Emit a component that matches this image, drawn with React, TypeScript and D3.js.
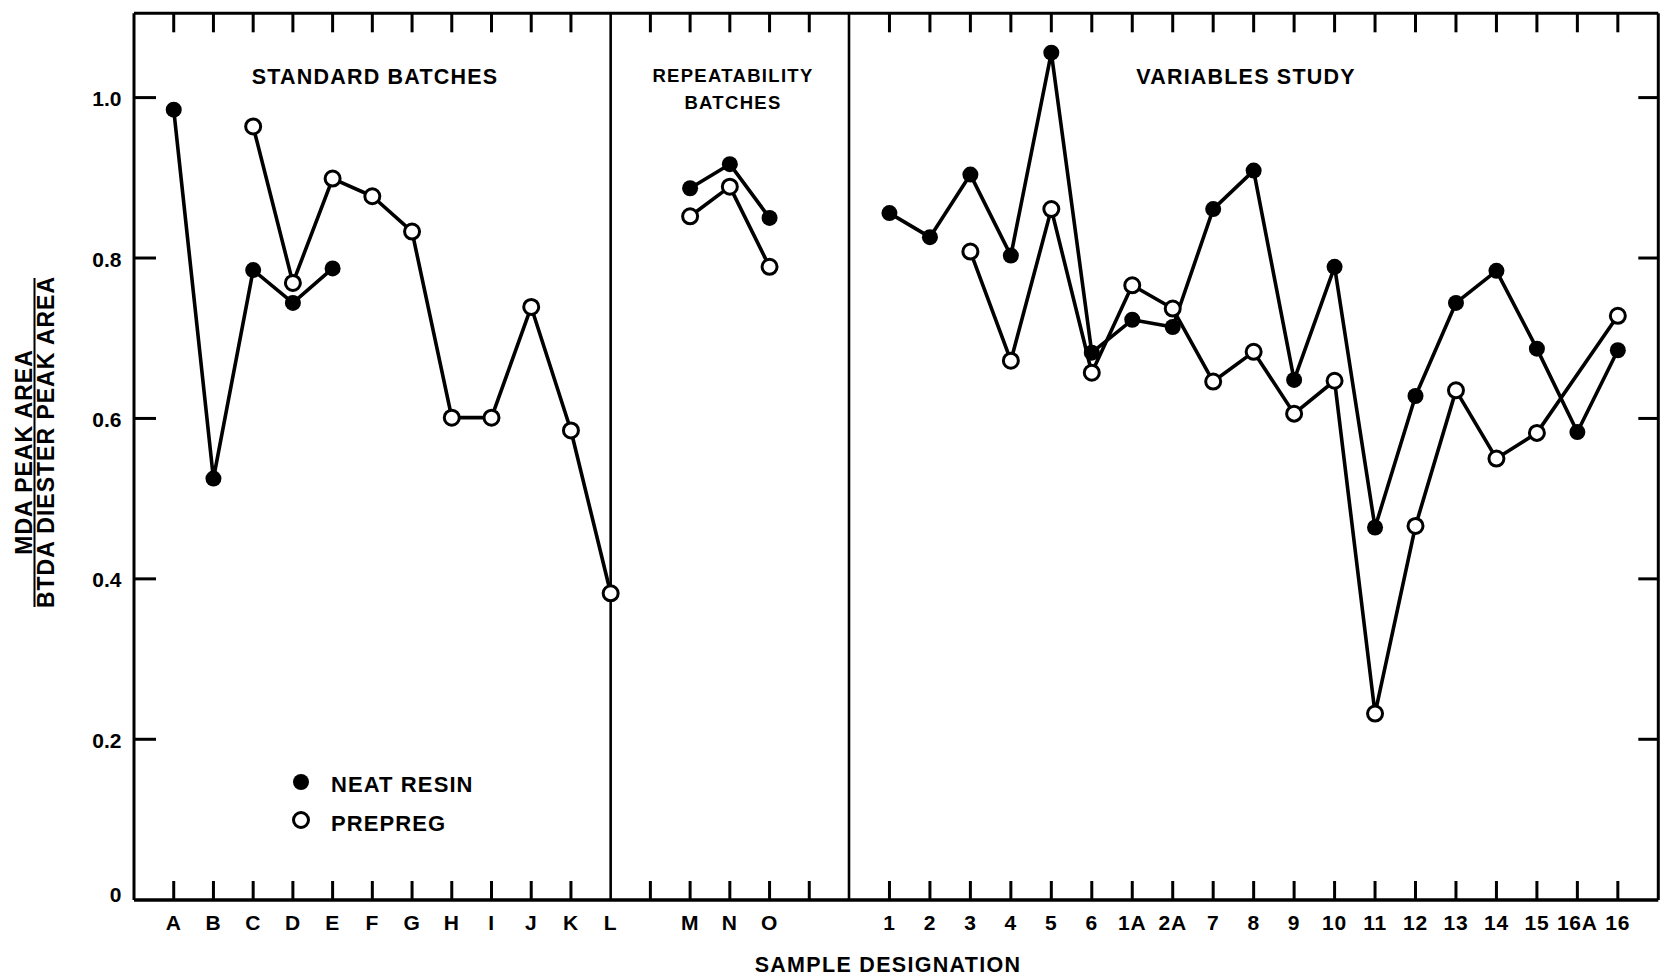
import React from "react";
import * as d3 from "d3";

// ---- Data ----
const standardCats = ["A", "B", "C", "D", "E", "F", "G", "H", "I", "J", "K", "L"];
const repeatCats = ["", "M", "N", "O", ""];
const variableCats = ["1", "2", "3", "4", "5", "6", "1A", "2A", "7", "8", "9", "10", "11", "12", "13", "14", "15", "16A", "16"];

const standardNeat = [0.985, 0.525, 0.785, 0.744, 0.787, null, null, null, null, null, null, null];
const standardPrepreg = [null, null, 0.964, 0.769, 0.899, 0.877, 0.833, 0.601, 0.601, 0.739, 0.585, 0.382];
const repeatNeat = [null, 0.887, 0.917, 0.85, null];
const repeatPrepreg = [null, 0.852, 0.889, 0.789, null];
const variableNeat = [0.856, 0.826, 0.904, 0.803, 1.056, 0.682, 0.723, 0.714, 0.861, 0.909, 0.648, 0.789, 0.464, 0.628, 0.744, 0.784, 0.687, 0.583, 0.685];
const variablePrepreg = [null, null, 0.808, 0.672, 0.861, 0.657, 0.766, 0.737, 0.646, 0.683, 0.606, 0.647, 0.232, 0.466, 0.635, 0.55, 0.582, null, 0.728];

const yTickValues = [0, 0.2, 0.4, 0.6, 0.8, 1.0];
const yTickLabels = ["0", "0.2", "0.4", "0.6", "0.8", "1.0"];

const sectionTitles = ["STANDARD BATCHES", "REPEATABILITY|BATCHES", "VARIABLES STUDY"];
const legendLabels = ["NEAT RESIN", "PREPREG"];

// ---- Layout ----
const W = 1664;
const H = 978;
const LEFT = 134;
const RIGHT = 1658.3;
const TOP = 13.3;
const BOTTOM = 900;
const FONT = "'Liberation Sans', Arial, Helvetica, sans-serif";

// index layout: standard 0..11, repeat 12..16, divider 17, variables 18..36
const standardStart = 0;
const repeatStart = standardCats.length; // 12
const dividerIdx = repeatStart + repeatCats.length; // 17
const variableStart = dividerIdx + 1; // 18
const lastIdx = variableStart + variableCats.length - 1; // 36

const x = d3.scaleLinear().domain([-1, dividerIdx, lastIdx + 1]).range([LEFT, 849, RIGHT]);
const y = d3.scaleLinear().domain([0, 1]).range([899.7, 97.6]);

type Pt = { i: number; v: number };

function toPoints(vals: (number | null)[], start: number): Pt[] {
  const out: Pt[] = [];
  vals.forEach((v, k) => {
    if (v !== null && v !== undefined) out.push({ i: start + k, v });
  });
  return out;
}

const neatSections = [
  toPoints(standardNeat, standardStart),
  toPoints(repeatNeat, repeatStart),
  toPoints(variableNeat, variableStart),
];
const prepregSections = [
  toPoints(standardPrepreg, standardStart),
  toPoints(repeatPrepreg, repeatStart),
  toPoints(variablePrepreg, variableStart),
];

const allCats: { i: number; label: string }[] = [];
standardCats.forEach((c, k) => allCats.push({ i: standardStart + k, label: c }));
repeatCats.forEach((c, k) => allCats.push({ i: repeatStart + k, label: c }));
variableCats.forEach((c, k) => allCats.push({ i: variableStart + k, label: c }));

const dividers = [standardStart + standardCats.length - 1, dividerIdx]; // L (11) and 17
const tickIdx = d3.range(0, lastIdx + 1).filter((i) => !dividers.includes(i));

const line = d3
  .line<Pt>()
  .x((d) => x(d.i))
  .y((d) => y(d.v));

export default function App() {
  const stroke = "#000";
  const titleStyle = { fontFamily: FONT, fontWeight: 700, fontSize: 21.5, letterSpacing: 1.2 } as const;
  const repTitle = sectionTitles[1].split("|");
  return (
    <svg
      width={W}
      height={H}
      viewBox={`0 0 ${W} ${H}`}
      style={{ position: "absolute", left: 0, top: 0, background: "#fff" }}
    >
      <rect x={0} y={0} width={W} height={H} fill="#fff" />
      {/* frame */}
      <g stroke={stroke} strokeWidth={3} fill="none">
        <line x1={LEFT} y1={TOP} x2={RIGHT} y2={TOP} />
        <line x1={LEFT} y1={BOTTOM} x2={RIGHT} y2={BOTTOM} strokeWidth={3.5} />
        <line x1={LEFT} y1={TOP} x2={LEFT} y2={BOTTOM} />
        <line x1={RIGHT} y1={TOP} x2={RIGHT} y2={BOTTOM} />
        {dividers.map((d) => (
          <line key={d} x1={x(d)} y1={TOP} x2={x(d)} y2={BOTTOM} strokeWidth={2.6} />
        ))}
      </g>
      {/* x ticks top & bottom */}
      <g stroke={stroke} strokeWidth={3}>
        {tickIdx.map((i) => (
          <g key={i}>
            <line x1={x(i)} y1={TOP} x2={x(i)} y2={TOP + 19} />
            <line x1={x(i)} y1={BOTTOM} x2={x(i)} y2={BOTTOM - 19} />
          </g>
        ))}
      </g>
      {/* y ticks left & right */}
      <g stroke={stroke} strokeWidth={3}>
        {yTickValues
          .filter((v) => v > 0)
          .map((v) => (
            <g key={v}>
              <line x1={LEFT} y1={y(v)} x2={LEFT + 22} y2={y(v)} />
              <line x1={RIGHT} y1={y(v)} x2={RIGHT - 20} y2={y(v)} />
            </g>
          ))}
      </g>
      {/* y tick labels */}
      <g fontFamily={FONT} fontWeight={700} fontSize={21} textAnchor="end" fill="#000">
        {yTickValues.map((v, k) => (
          <text key={v} x={121.5} y={v === 0 ? 901.5 : y(v) + 8.5}>
            {yTickLabels[k]}
          </text>
        ))}
      </g>
      {/* category labels */}
      <g fontFamily={FONT} fontWeight={700} fontSize={21} textAnchor="middle" fill="#000" letterSpacing={0.8}>
        {allCats
          .filter((c) => c.label !== "")
          .map((c) => (
            <text key={c.i} x={x(c.i)} y={929.5}>
              {c.label}
            </text>
          ))}
      </g>
      {/* section titles */}
      <text x={375} y={83.5} textAnchor="middle" style={titleStyle}>
        {sectionTitles[0]}
      </text>
      <text
        x={733}
        y={81.5}
        textAnchor="middle"
        style={{ fontFamily: FONT, fontWeight: 700, fontSize: 18.5, letterSpacing: 1.3 }}
      >
        {repTitle[0]}
      </text>
      <text
        x={733}
        y={109}
        textAnchor="middle"
        style={{ fontFamily: FONT, fontWeight: 700, fontSize: 18.5, letterSpacing: 1.3 }}
      >
        {repTitle[1]}
      </text>
      <text x={1246} y={83.5} textAnchor="middle" style={titleStyle}>
        {sectionTitles[2]}
      </text>
      {/* lines */}
      <g fill="none" stroke={stroke} strokeWidth={3.6} strokeLinejoin="round">
        {neatSections.map((s, k) => (s.length > 1 ? <path key={"n" + k} d={line(s) || ""} /> : null))}
        {prepregSections.map((s, k) => (s.length > 1 ? <path key={"p" + k} d={line(s) || ""} /> : null))}
      </g>
      {/* markers */}
      <g fill="#000">
        {neatSections.flat().map((d) => (
          <circle key={"nd" + d.i} cx={x(d.i)} cy={y(d.v)} r={8} />
        ))}
      </g>
      <g fill="#fff" stroke="#000" strokeWidth={3}>
        {prepregSections.flat().map((d) => (
          <circle key={"pd" + d.i} cx={x(d.i)} cy={y(d.v)} r={7.5} />
        ))}
      </g>
      {/* legend */}
      <circle cx={301} cy={782} r={8} fill="#000" />
      <circle cx={301} cy={820} r={7.5} fill="#fff" stroke="#000" strokeWidth={3} />
      <text x={331} y={792} style={{ fontFamily: FONT, fontWeight: 700, fontSize: 22, letterSpacing: 1.1 }}>
        {legendLabels[0]}
      </text>
      <text x={331} y={831} style={{ fontFamily: FONT, fontWeight: 700, fontSize: 22, letterSpacing: 1.1 }}>
        {legendLabels[1]}
      </text>
      {/* y axis title */}
      <g style={{ fontFamily: FONT, fontWeight: 700, fontSize: 23, letterSpacing: 1 }}>
        <text transform="translate(32,452) rotate(-90)" textAnchor="middle">
          MDA PEAK AREA
        </text>
        <text transform="translate(53.5,442) rotate(-90)" textAnchor="middle">
          BTDA DIESTER PEAK AREA
        </text>
      </g>
      <line x1={34.5} y1={278} x2={34.5} y2={607} stroke="#000" strokeWidth={2} />
      {/* x axis title */}
      <text
        x={888}
        y={971.5}
        textAnchor="middle"
        style={{ fontFamily: FONT, fontWeight: 700, fontSize: 21.5, letterSpacing: 1.3 }}
      >
        SAMPLE DESIGNATION
      </text>
    </svg>
  );
}
